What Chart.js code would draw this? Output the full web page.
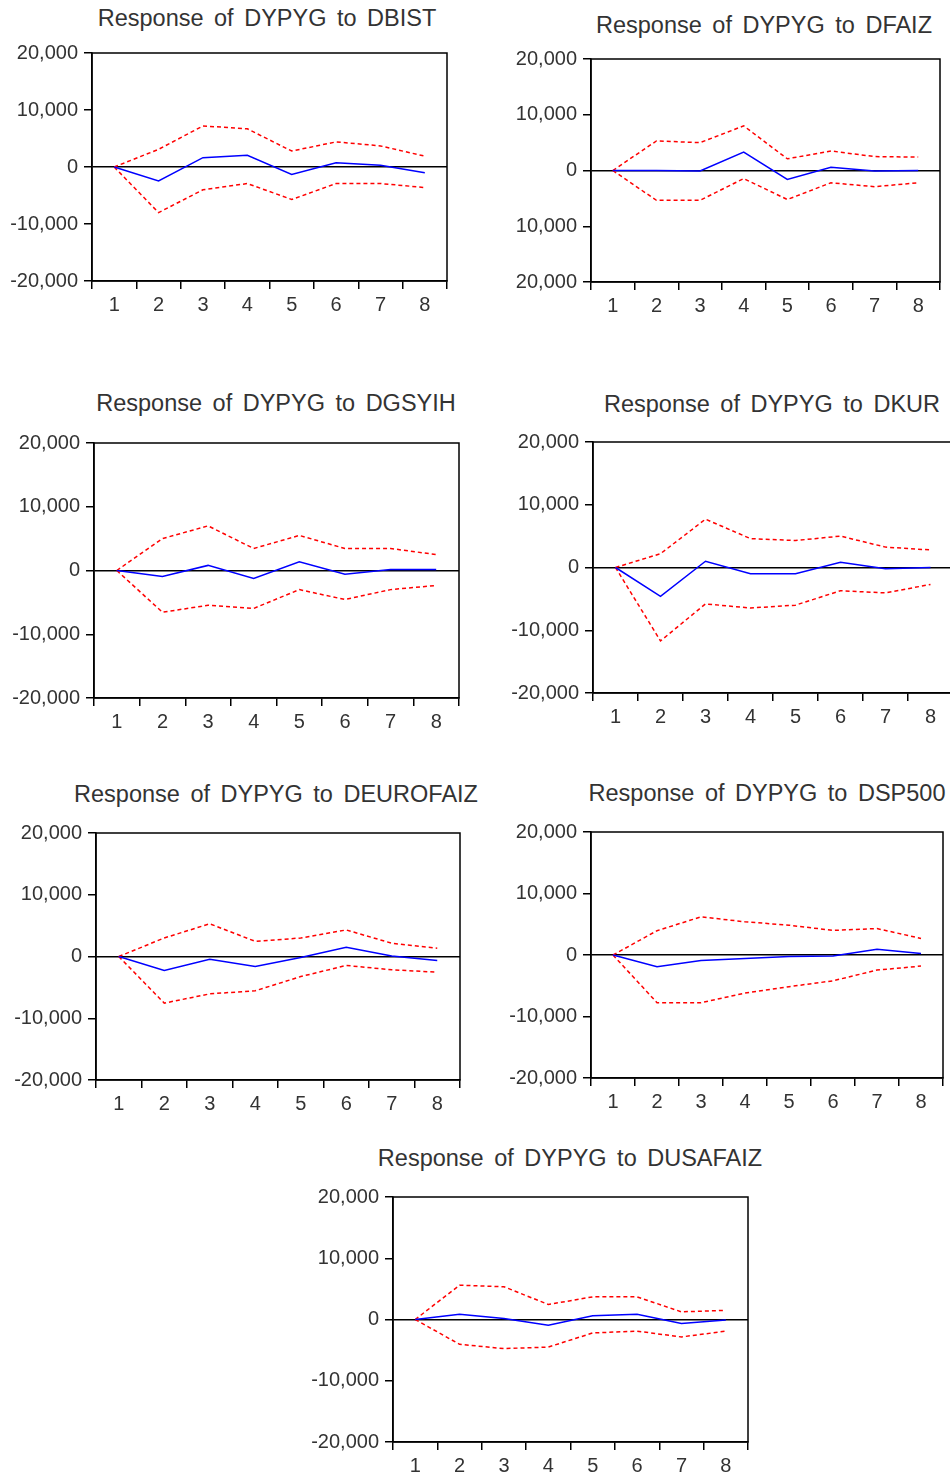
<!DOCTYPE html>
<html>
<head>
<meta charset="utf-8">
<script src="https://cdn.jsdelivr.net/npm/chart.js@4.4.0/dist/chart.umd.min.js"></script>
<style>
  html, body { margin: 0; padding: 0; background: #fff; }
  body { width: 950px; height: 1479px; position: relative; overflow: hidden; }
  .panel { position: absolute; }
  .title {
    position: absolute; white-space: nowrap; transform: translate(-50%, -50%);
    font-family: "Liberation Sans", Arial, sans-serif; font-size: 23.5px; color: #333;
    word-spacing: 4px;
  }
</style>
</head>
<body>
<script>
// horizon periods and y ticks
var periods = ['1', '2', '3', '4', '5', '6', '7', '8'];
var yTicks = [-20000, -10000, 0, 10000, 20000];

// response of DYPYG to each shock (response, upper band, lower band)
var dbistResp  = [0, -2450, 1640, 2050, -1290, 760, 300, -1000];
var dbistUpper = [0, 3100, 7200, 6700, 2800, 4400, 3700, 1900];
var dbistLower = [0, -8000, -4000, -2900, -5700, -2900, -2900, -3600];

var dfaizResp  = [0, 0, -100, 3300, -1600, 600, -100, 0];
var dfaizUpper = [0, 5300, 5000, 8000, 2100, 3500, 2500, 2400];
var dfaizLower = [0, -5350, -5350, -1450, -5200, -2200, -2900, -2200];

var dgsyihResp  = [0, -950, 800, -1250, 1350, -600, 150, 150];
var dgsyihUpper = [0, 5000, 7000, 3450, 5500, 3450, 3450, 2500];
var dgsyihLower = [0, -6550, -5450, -5950, -3000, -4550, -3000, -2350];

var dkurResp  = [0, -4600, 1000, -1000, -1000, 850, -200, 0];
var dkurUpper = [0, 2200, 7700, 4600, 4300, 5000, 3250, 2800];
var dkurLower = [0, -11700, -5800, -6450, -6000, -3700, -4050, -2700];

var deurofaizResp  = [0, -2250, -450, -1600, -150, 1500, 100, -650];
var deurofaizUpper = [0, 3000, 5300, 2450, 3000, 4300, 2150, 1350];
var deurofaizLower = [0, -7550, -6050, -5550, -3250, -1450, -2150, -2550];

var dsp500Resp  = [0, -1900, -900, -550, -250, -150, 950, 250];
var dsp500Upper = [0, 3950, 6200, 5400, 4850, 4000, 4300, 2700];
var dsp500Lower = [0, -7750, -7750, -6200, -5150, -4200, -2450, -1800];

var dusafaizResp  = [0, 850, 150, -950, 600, 850, -650, -100];
var dusafaizUpper = [0, 5600, 5350, 2450, 3700, 3700, 1250, 1500];
var dusafaizLower = [0, -4050, -4750, -4500, -2200, -1900, -2850, -1900];

// layout of each panel: plot box (left, top, width, height) and title centre
var panels = [
  { title: 'Response of DYPYG to DBIST', resp: dbistResp, up: dbistUpper, lo: dbistLower,
    box: [92, 53, 355, 228], tx: 267, ty: 18 },
  { title: 'Response of DYPYG to DFAIZ', resp: dfaizResp, up: dfaizUpper, lo: dfaizLower,
    box: [591, 59, 349, 223], tx: 764, ty: 25, absLabels: true },
  { title: 'Response of DYPYG to DGSYIH', resp: dgsyihResp, up: dgsyihUpper, lo: dgsyihLower,
    box: [94, 443, 365, 255], tx: 276, ty: 403 },
  { title: 'Response of DYPYG to DKUR', resp: dkurResp, up: dkurUpper, lo: dkurLower,
    box: [593, 442, 360, 251], tx: 772, ty: 404 },
  { title: 'Response of DYPYG to DEUROFAIZ', resp: deurofaizResp, up: deurofaizUpper, lo: deurofaizLower,
    box: [96, 833, 364, 247], tx: 276, ty: 794 },
  { title: 'Response of DYPYG to DSP500', resp: dsp500Resp, up: dsp500Upper, lo: dsp500Lower,
    box: [591, 832, 352, 246], tx: 767, ty: 793 },
  { title: 'Response of DYPYG to DUSAFAIZ', resp: dusafaizResp, up: dusafaizUpper, lo: dusafaizLower,
    box: [393, 1197, 355, 245], tx: 570, ty: 1158 }
];

var PAD_L = 92, PAD_T = 14, PAD_R = 10, PAD_B = 40;
var tickFont = { family: '"Liberation Sans", Arial, sans-serif', size: 20 };

// draws the frame round the plot area
var framePlugin = {
  id: 'frame',
  afterDatasetsDraw: function(chart) {
    var a = chart.chartArea, ctx = chart.ctx;
    ctx.save();
    ctx.strokeStyle = '#000';
    ctx.lineWidth = 1.5;
    ctx.strokeRect(a.left, a.top, a.right - a.left, a.bottom - a.top);
    ctx.restore();
  }
};

panels.forEach(function(p) {
  var div = document.createElement('div');
  div.className = 'panel';
  var w = p.box[2] + PAD_L + PAD_R, h = p.box[3] + PAD_T + PAD_B;
  div.style.left = (p.box[0] - PAD_L) + 'px';
  div.style.top = (p.box[1] - PAD_T) + 'px';
  div.style.width = w + 'px';
  div.style.height = h + 'px';
  var canvas = document.createElement('canvas');
  div.appendChild(canvas);
  document.body.appendChild(div);

  var t = document.createElement('div');
  t.className = 'title';
  t.textContent = p.title;
  t.style.left = p.tx + 'px';
  t.style.top = p.ty + 'px';
  document.body.appendChild(t);

  new Chart(canvas, {
    type: 'line',
    data: {
      labels: periods,
      datasets: [
        { data: p.resp, borderColor: '#0000ff', borderWidth: 1.5, pointRadius: 0, tension: 0 },
        { data: p.up, borderColor: '#ff0000', borderWidth: 1.5, borderDash: [4, 3], pointRadius: 0, tension: 0 },
        { data: p.lo, borderColor: '#ff0000', borderWidth: 1.5, borderDash: [4, 3], pointRadius: 0, tension: 0 }
      ]
    },
    options: {
      responsive: true,
      maintainAspectRatio: false,
      animation: false,
      layout: { padding: { top: PAD_T, right: PAD_R, left: 0, bottom: 0 } },
      plugins: { legend: { display: false }, tooltip: { enabled: false } },
      scales: {
        x: {
          type: 'category',
          offset: true,
          afterFit: function(s) {
            s.height = PAD_B;
            s.paddingLeft = 0; s.paddingRight = 0;
          },
          grid: { offset: true, drawOnChartArea: false, tickLength: 8, color: '#000', lineWidth: 1.5 },
          border: { color: '#000', width: 1.5 },
          ticks: { color: '#333', font: tickFont, padding: 4, maxRotation: 0 }
        },
        y: {
          min: -20000, max: 20000,
          afterFit: function(s) {
            s.width = PAD_L;
            s.paddingTop = 0; s.paddingBottom = 0;
          },
          afterBuildTicks: function(s) { s.ticks = yTicks.map(function(v) { return { value: v }; }); },
          grid: {
            tickLength: 8, tickColor: '#000', lineWidth: 1.5,
            color: function(c) { return c.tick && c.tick.value === 0 ? '#000' : 'rgba(0,0,0,0)'; }
          },
          border: { color: '#000', width: 1.5 },
          ticks: {
            color: '#333', font: tickFont, padding: 6,
            callback: function(v) {
              var n = p.absLabels ? Math.abs(v) : v;
              return n.toLocaleString('en-US');
            }
          }
        }
      }
    },
    plugins: [framePlugin]
  });
});
</script>
</body>
</html>
